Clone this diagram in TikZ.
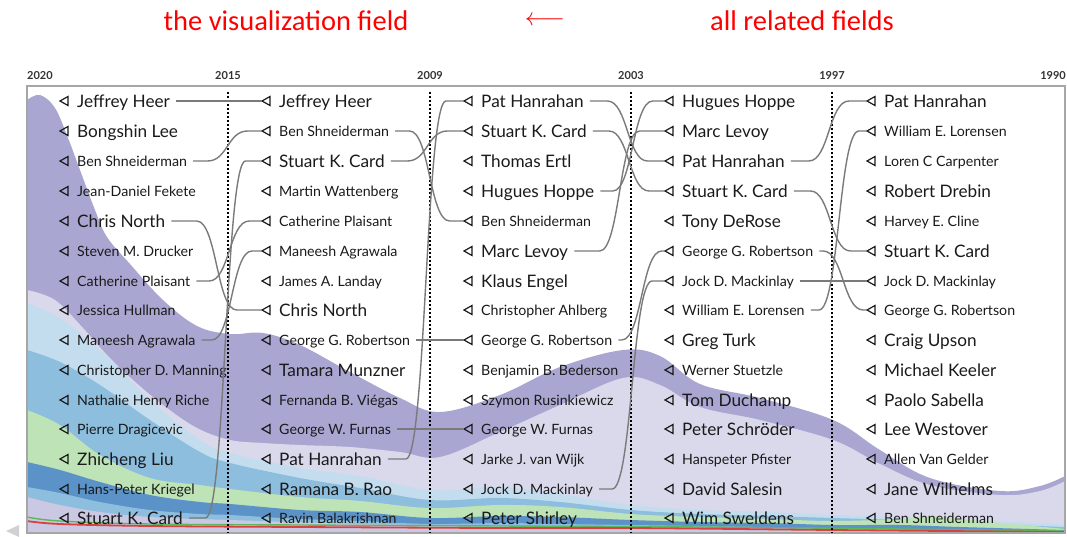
\documentclass[tikz,border=0pt]{standalone}
\usepackage{fontspec}
\setmainfont{Lato}
\newfontfamily\headfont{Carlito}
\usetikzlibrary{calc}

\definecolor{lyrPurple}{HTML}{A9A6D2}
\definecolor{lyrLav}{HTML}{DAD9EC}
\definecolor{lyrSky}{HTML}{C4DDEE}
\definecolor{lyrBlue}{HTML}{8EBEDD}
\definecolor{lyrGreen}{HTML}{BDE3B6}
\definecolor{lyrDeep}{HTML}{5B93C8}
\definecolor{lyrLav2}{HTML}{CAC8E3}
\definecolor{lineGreen}{HTML}{5DB75D}
\definecolor{lineRed}{HTML}{D8423E}
\definecolor{ink}{HTML}{1A1A1A}

% one author entry: open triangle marker plus name
\newcommand\who[5]{%
  \coordinate (#1t) at (#2,#3);
  \draw[tipmark] (#1t) -- ++(8,-4.5) -- ++(0,9) -- cycle;
  \node[person,#4,anchor=west] (#1) at (#2+17,#3) {#5};
}
% connector between the same author in neighbouring years
\newcommand\conn[2]{%
  \draw[tie] let \p1=([xshift=6pt]#1.east), \p2=(#2t), \p3=($(\p1)!0.5!(\p2)$) in
    (\p1) -- ({\x3-20pt},\y1) .. controls (\x3,\y1) and (\x3,\y2) .. ({\x3+20pt},\y2) -- (\p2);
}

\begin{document}
\begin{tikzpicture}[x=1pt,y=-1pt,
  tipmark/.style={draw=ink, line width=1.2pt, line join=miter},
  person/.style={inner sep=0pt, text=ink, text depth=0pt},
  big/.style={font=\fontsize{17.2}{20}\selectfont, text height=12.3pt},
  small/.style={font=\fontsize{14.2}{17}\selectfont, text height=10.2pt},
  tie/.style={draw=black!52, line width=1.4pt},
  divider/.style={draw=black, dash pattern=on 1.6pt off 2.4pt, line width=1.6pt},
  year/.style={font=\bfseries\fontsize{11}{13}\selectfont, text=black!80, inner sep=0pt},
  headline/.style={font=\headfont\fontsize{28.5}{32}\selectfont, text=red, inner sep=0pt}]
\useasboundingbox (0,0) rectangle (1067,537);

% headline
\node[headline, anchor=base] (hl) at (286,31) {the visualization field};
\node[headline, font=\fontsize{23}{27}\selectfont] (ha) at (545,21) {$\longleftarrow$};
\node[headline, anchor=base] (hr) at (802,31) {all related fields};

% year axis
\node[year, anchor=base west] (y2020) at (27,80) {2020};
\node[year, anchor=base] (y2015) at (228,80) {2015};
\node[year, anchor=base] (y2009) at (430,80) {2009};
\node[year, anchor=base] (y2003) at (631,80) {2003};
\node[year, anchor=base] (y1997) at (832,80) {1997};
\node[year, anchor=base east] (y1990) at (1066,80) {1990};

% stacked topic streams
\begin{scope}
\clip (27,86) rectangle (1065,533);
\fill[lyrPurple] (27,533) -- plot[smooth,tension=0.6] coordinates {(27,100) (40,95) (55,108) (68,138) (80,170) (95,210) (107,237) (130,264) (163,300) (197,326) (230,334) (263,333) (300,345) (350,372) (400,398) (440,412) (500,395) (560,367) (623,350) (660,356) (700,384) (760,398) (833,420) (880,450) (930,478) (1000,491) (1040,486) (1065,476)} -- (1065,533) -- cycle;
\fill[lyrLav] (27,533) -- plot[smooth,tension=0.6] coordinates {(27,290) (55,300) (83,328) (107,355) (133,380) (163,405) (197,428) (230,440) (263,443) (300,445) (350,447) (400,452) (440,457) (500,432) (560,405) (623,378) (660,385) (700,407) (760,420) (833,440) (880,464) (930,485) (1000,495) (1040,491) (1065,481)} -- (1065,533) -- cycle;
\fill[lyrSky] (27,533) -- plot[smooth,tension=0.6] coordinates {(27,303) (60,318) (100,350) (150,400) (200,440) (230,453) (300,468) (360,476) (430,490) (500,487) (560,494) (631,505) (700,510) (770,512) (832,515) (900,517) (960,520) (1065,524)} -- (1065,533) -- cycle;
\fill[lyrBlue] (27,533) -- plot[smooth,tension=0.6] coordinates {(27,350) (60,362) (100,385) (150,420) (200,452) (230,463) (300,478) (360,488) (430,500) (500,498) (560,502) (631,510) (700,514) (770,516) (832,518) (900,520) (960,523) (1065,527)} -- (1065,533) -- cycle;
\fill[lyrGreen] (27,533) -- plot[smooth,tension=0.6] coordinates {(27,410) (60,425) (100,455) (150,478) (200,485) (230,489) (300,497) (360,501) (430,508) (500,505) (560,507) (631,514) (700,517) (770,519) (832,521) (900,519) (930,516) (960,519) (1065,529)} -- (1065,533) -- cycle;
\fill[lyrDeep] (27,533) -- plot[smooth,tension=0.6] coordinates {(27,462) (60,470) (100,482) (150,495) (200,502) (230,504) (300,510) (360,512) (430,518) (500,516) (560,517) (631,520) (700,522) (770,523) (832,525) (900,525) (960,527) (1065,530)} -- (1065,533) -- cycle;
\fill[lyrBlue] (27,533) -- plot[smooth,tension=0.6] coordinates {(27,487) (60,493) (100,502) (150,510) (200,514) (230,515) (300,519) (360,521) (430,524) (500,523) (560,524) (631,525) (700,526) (770,527) (832,528) (900,529) (960,530) (1065,531)} -- (1065,533) -- cycle;
\fill[lyrLav2] (27,533) -- plot[smooth,tension=0.6] coordinates {(27,497) (60,505) (100,512) (150,517) (230,520) (360,524) (500,526) (631,527) (832,529) (1065,532)} -- (1065,533) -- cycle;
\draw[lineGreen, line width=1.4pt] plot[smooth,tension=0.6] coordinates {(27,517) (60,521) (150,524) (300,525) (500,526) (700,527) (900,529) (1065,531)};
\draw[lineRed, line width=1.8pt] plot[smooth,tension=0.6] coordinates {(27,521) (60,524) (150,526) (300,527) (500,528) (631,528) (832,530) (1065,532)};
\end{scope}

% frame
\draw[black!35, line width=1.2pt] (27,86) rectangle (1065,533);
\fill[black!18] (6,531) -- (19,525) -- (19,537) -- cycle;

% year dividers
\foreach \xd in {228,430,631,832} \draw[divider] (\xd,92) -- (\xd,533);

% 2020
\who{a0}{60}{101}{big}{Jeffrey Heer}
\who{a1}{60}{131}{big}{Bongshin Lee}
\who{a2}{60}{161}{small}{Ben Shneiderman}
\who{a3}{60}{191}{small}{Jean-Daniel Fekete}
\who{a4}{60}{221}{big}{Chris North}
\who{a5}{60}{251}{small}{Steven M. Drucker}
\who{a6}{60}{281}{small}{Catherine Plaisant}
\who{a7}{60}{310}{small}{Jessica Hullman}
\who{a8}{60}{340}{small}{Maneesh Agrawala}
\who{a9}{60}{370}{small}{Christopher D. Manning}
\who{a10}{60}{400}{small}{Nathalie Henry Riche}
\who{a11}{60}{429}{small}{Pierre Dragicevic}
\who{a12}{60}{459}{big}{Zhicheng Liu}
\who{a13}{60}{489}{small}{Hans-Peter Kriegel}
\who{a14}{60}{518}{big}{Stuart K. Card}

% 2015
\who{b0}{262}{101}{big}{Jeffrey Heer}
\who{b1}{262}{131}{small}{Ben Shneiderman}
\who{b2}{262}{161}{big}{Stuart K. Card}
\who{b3}{262}{191}{small}{Martin Wattenberg}
\who{b4}{262}{221}{small}{Catherine Plaisant}
\who{b5}{262}{251}{small}{Maneesh Agrawala}
\who{b6}{262}{281}{small}{James A. Landay}
\who{b7}{262}{310}{big}{Chris North}
\who{b8}{262}{340}{small}{George G. Robertson}
\who{b9}{262}{370}{big}{Tamara Munzner}
\who{b10}{262}{400}{small}{Fernanda B. Viégas}
\who{b11}{262}{429}{small}{George W. Furnas}
\who{b12}{262}{459}{big}{Pat Hanrahan}
\who{b13}{262}{489}{big}{Ramana B. Rao}
\who{b14}{262}{518}{small}{Ravin Balakrishnan}

% 2009
\who{c0}{464}{101}{big}{Pat Hanrahan}
\who{c1}{464}{131}{big}{Stuart K. Card}
\who{c2}{464}{161}{big}{Thomas Ertl}
\who{c3}{464}{191}{big}{Hugues Hoppe}
\who{c4}{464}{221}{small}{Ben Shneiderman}
\who{c5}{464}{251}{big}{Marc Levoy}
\who{c6}{464}{281}{big}{Klaus Engel}
\who{c7}{464}{310}{small}{Christopher Ahlberg}
\who{c8}{464}{340}{small}{George G. Robertson}
\who{c9}{464}{370}{small}{Benjamin B. Bederson}
\who{c10}{464}{400}{small}{Szymon Rusinkiewicz}
\who{c11}{464}{429}{small}{George W. Furnas}
\who{c12}{464}{459}{small}{Jarke J. van Wijk}
\who{c13}{464}{489}{small}{Jock D. Mackinlay}
\who{c14}{464}{518}{big}{Peter Shirley}

% 2003
\who{d0}{665}{101}{big}{Hugues Hoppe}
\who{d1}{665}{131}{big}{Marc Levoy}
\who{d2}{665}{161}{big}{Pat Hanrahan}
\who{d3}{665}{191}{big}{Stuart K. Card}
\who{d4}{665}{221}{big}{Tony DeRose}
\who{d5}{665}{251}{small}{George G. Robertson}
\who{d6}{665}{281}{small}{Jock D. Mackinlay}
\who{d7}{665}{310}{small}{William E. Lorensen}
\who{d8}{665}{340}{big}{Greg Turk}
\who{d9}{665}{370}{small}{Werner Stuetzle}
\who{d10}{665}{400}{big}{Tom Duchamp}
\who{d11}{665}{429}{big}{Peter Schröder}
\who{d12}{665}{459}{small}{Hanspeter Pfister}
\who{d13}{665}{489}{big}{David Salesin}
\who{d14}{665}{518}{big}{Wim Sweldens}

% 1997
\who{e0}{867}{101}{big}{Pat Hanrahan}
\who{e1}{867}{131}{small}{William E. Lorensen}
\who{e2}{867}{161}{small}{Loren C Carpenter}
\who{e3}{867}{191}{big}{Robert Drebin}
\who{e4}{867}{221}{small}{Harvey E. Cline}
\who{e5}{867}{251}{big}{Stuart K. Card}
\who{e6}{867}{281}{small}{Jock D. Mackinlay}
\who{e7}{867}{310}{small}{George G. Robertson}
\who{e8}{867}{340}{big}{Craig Upson}
\who{e9}{867}{370}{big}{Michael Keeler}
\who{e10}{867}{400}{big}{Paolo Sabella}
\who{e11}{867}{429}{big}{Lee Westover}
\who{e12}{867}{459}{small}{Allen Van Gelder}
\who{e13}{867}{489}{big}{Jane Wilhelms}
\who{e14}{867}{518}{small}{Ben Shneiderman}

% co-author continuity links
\conn{a0}{b0}\conn{a2}{b1}\conn{a4}{b7}\conn{a6}{b4}\conn{a8}{b5}\conn{a14}{b2}
\conn{b1}{c4}\conn{b2}{c1}\conn{b8}{c8}\conn{b11}{c11}\conn{b12}{c0}
\conn{c0}{d2}\conn{c1}{d3}\conn{c3}{d0}\conn{c5}{d1}\conn{c8}{d5}\conn{c13}{d6}
\conn{d2}{e0}\conn{d3}{e5}\conn{d5}{e7}\conn{d6}{e6}\conn{d7}{e1}
\end{tikzpicture}
\end{document}
